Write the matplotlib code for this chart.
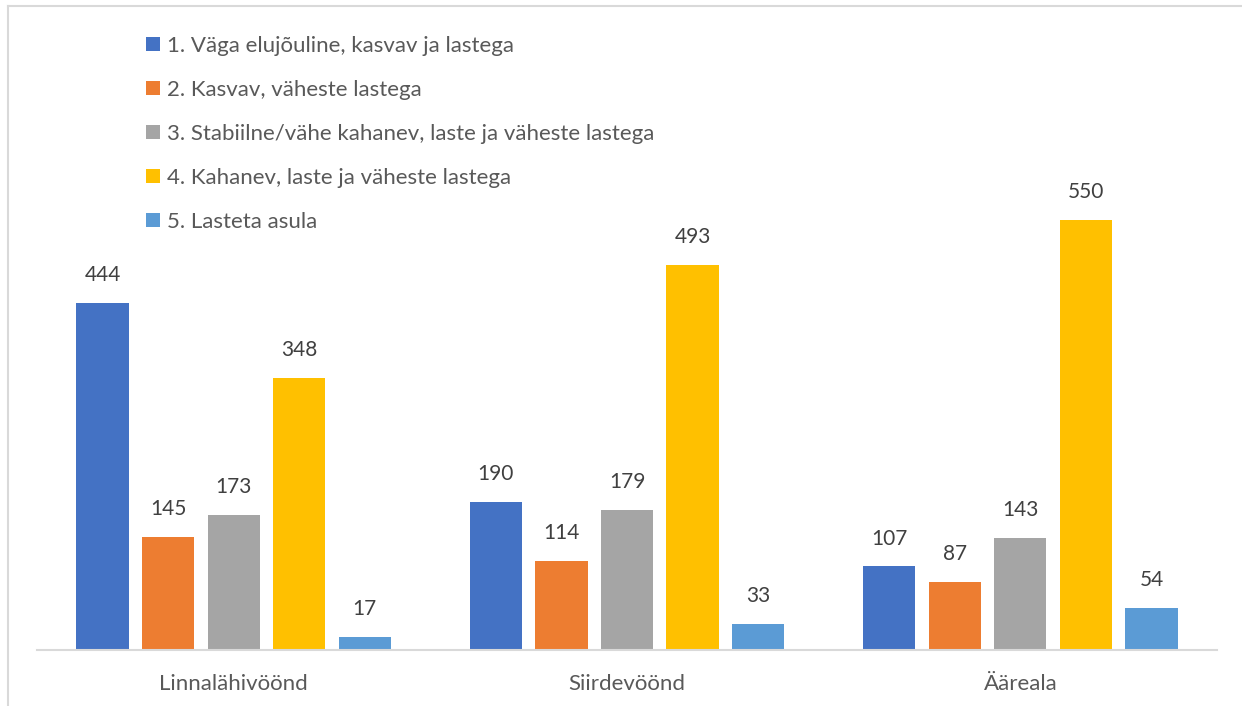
import numpy as np
import matplotlib
matplotlib.use('Agg')
import matplotlib.pyplot as plt
from matplotlib.lines import Line2D

plt.rcParams['font.family'] = ['Lato', 'DejaVu Sans']

### Data
categories = ['Linnalähivöönd', 'Siirdevöönd', 'Ääreala']
series_names = ['1. Väga elujõuline, kasvav ja lastega',
                '2. Kasvav, väheste lastega',
                '3. Stabiilne/vähe kahanev, laste ja väheste lastega',
                '4. Kahanev, laste ja väheste lastega',
                '5. Lasteta asula']
values = [
    [444, 190, 107],
    [145, 114, 87],
    [173, 179, 143],
    [348, 493, 550],
    [17, 33, 54],
]
colors = ['#4472c4', '#ed7d31', '#a5a5a5', '#ffc000', '#5b9bd5']

### Figure
W, H = 1242, 706
fig = plt.figure(figsize=(W / 100, H / 100), dpi=100)
ax = fig.add_axes([37 / W, (H - 650) / H, 1180 / W, 547 / H])

x = np.arange(len(categories))
step = 1 / 6
width = 0.133
for i, (name, vals) in enumerate(zip(series_names, values)):
    pos = x + (i - 2) * step
    bars = ax.bar(pos, vals, width=width, color=colors[i], label=name, zorder=2)
    for b, v in zip(bars, vals):
        ax.annotate(str(v), (b.get_x() + b.get_width() / 2, v), xytext=(0, 20),
                    textcoords='offset points', ha='center', va='center',
                    fontsize=15, color='#404040')

ax.set_xlim(-0.5, len(categories) - 0.5)
ax.set_ylim(0, 700)
ax.set_yticks([])
ax.set_xticks(x)
ax.set_xticklabels(categories, fontsize=16, color='#595959')
ax.tick_params(axis='x', length=0, pad=17)
for s in ['top', 'right', 'left']:
    ax.spines[s].set_visible(False)
ax.spines['bottom'].set_color('#d9d9d9')
ax.spines['bottom'].set_linewidth(1.5)

# legend
leg = fig.legend(loc='upper left', bbox_to_anchor=(146 / W, 1 - 36 / H), frameon=False,
                 fontsize=16, labelcolor='#595959', handlelength=0.63, handleheight=0.63,
                 handletextpad=0.3, labelspacing=1.08, borderaxespad=0, borderpad=0)

# chart border (left and top edges visible)
fig.add_artist(Line2D([7.5 / W, 7.5 / W], [0, 1 - 5.5 / H], color='#d9d9d9', lw=1.5))
fig.add_artist(Line2D([7.5 / W, 1], [1 - 5.5 / H, 1 - 5.5 / H], color='#d9d9d9', lw=1.5))

fig.savefig('out.png', dpi=100)
